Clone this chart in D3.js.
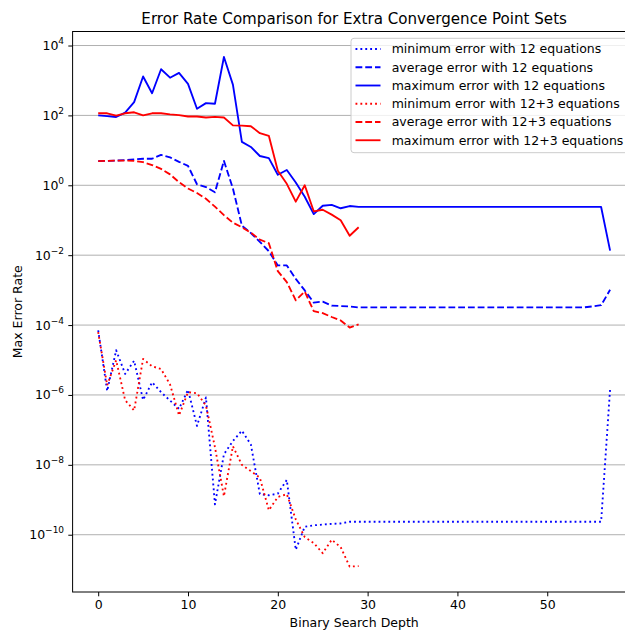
<!DOCTYPE html>
<html>
<head>
<meta charset="utf-8">
<script src="https://cdn.jsdelivr.net/npm/d3@7"></script>
<style>
  body { margin: 0; background: #fff; }
  svg { font-family: "DejaVu Sans", sans-serif; }
</style>
</head>
<body>
<svg id="svg" width="625" height="630"></svg>
<script>
/*global d3*/

// binary search depth = array index
const minErr12 = [7.1e-5, 1.3e-6, 1.9e-5, 4.0e-6, 9.5e-6, 7.2e-7, 2.3e-6, 1.2e-6, 6.9e-7, 4.0e-7,
  1.4e-6, 1.3e-7, 8.5e-7, 7.4e-10, 2.0e-8, 4.8e-8, 9.5e-8, 3.8e-8, 1.45e-9, 1.35e-9,
  1.5e-9, 3.7e-9, 3.7e-11, 1.7e-10, 1.86e-10, 1.95e-10, 2.05e-10, 2.1e-10, 2.35e-10, 2.35e-10,
  2.35e-10, 2.35e-10, 2.35e-10, 2.35e-10, 2.35e-10, 2.35e-10, 2.35e-10, 2.35e-10, 2.35e-10, 2.35e-10,
  2.35e-10, 2.35e-10, 2.35e-10, 2.35e-10, 2.35e-10, 2.35e-10, 2.35e-10, 2.35e-10, 2.35e-10, 2.35e-10,
  2.35e-10, 2.35e-10, 2.35e-10, 2.35e-10, 2.35e-10, 2.35e-10, 2.35e-10, 1.5e-6];

const avgErr12 = [4.9, 5.0, 5.1, 5.25, 5.5, 5.75, 5.75, 7.4, 6.3, 4.7,
  3.6, 1.07, 0.89, 0.63, 5.0, 0.81, 0.07, 0.043, 0.024, 0.013,
  0.0051, 0.0051, 0.0021, 0.00098, 0.00044, 0.00047, 0.00036, 0.00035, 0.00034, 0.00032,
  0.00032, 0.00032, 0.00032, 0.00032, 0.00032, 0.00032, 0.00032, 0.00032, 0.00032, 0.00032,
  0.00032, 0.00032, 0.00032, 0.00032, 0.00032, 0.00032, 0.00032, 0.00032, 0.00032, 0.00032,
  0.00032, 0.00032, 0.00032, 0.00032, 0.00032, 0.00034, 0.00037, 0.00102];

const maxErr12 = [100, 95, 90, 120, 240, 1300, 430, 2100, 1200, 1650,
  800, 155, 225, 215, 4700, 760, 17.5, 12.5, 6.9, 6.0,
  2.0, 2.75, 1.2, 0.47, 0.15, 0.26, 0.275, 0.22, 0.255, 0.24,
  0.24, 0.24, 0.24, 0.24, 0.24, 0.24, 0.24, 0.24, 0.24, 0.24,
  0.24, 0.24, 0.24, 0.24, 0.24, 0.24, 0.24, 0.24, 0.24, 0.24,
  0.24, 0.24, 0.24, 0.24, 0.24, 0.24, 0.24, 0.0135];

const minErr15 = [6.3e-5, 1.9e-6, 9.8e-6, 7.1e-7, 3.6e-7, 1.07e-5, 6.6e-6, 5.5e-6, 2.0e-6, 2.6e-7,
  1.2e-6, 1.12e-6, 5.0e-7, 3.2e-8, 1.26e-9, 3.4e-8, 1.0e-8, 6.6e-9, 4.3e-9, 5.0e-10,
  1.2e-9, 1.45e-9, 2.75e-10, 8.5e-11, 5.8e-11, 2.95e-11, 7.2e-11, 4.4e-11, 1.23e-11, 1.26e-11];

const avgErr15 = [4.9, 5.0, 5.1, 5.1, 5.0, 4.6, 3.8, 2.95, 2.05, 1.23,
  0.81, 0.60, 0.41, 0.245, 0.14, 0.085, 0.063, 0.044, 0.028, 0.022,
  0.0035, 0.0017, 0.00051, 0.00091, 0.00025, 0.00022, 0.00017, 0.000135, 0.000085, 0.000105];

const maxErr15 = [115, 115, 98, 115, 123, 100, 115, 115, 107, 102,
  93, 93, 87, 91, 87, 52, 51, 49, 31, 26,
  2.6, 1.1, 0.34, 1.0, 0.18, 0.2, 0.145, 0.1, 0.036, 0.063];

const seriesNames = [
  "minimum error with 12 equations",
  "average error with 12 equations",
  "maximum error with 12 equations",
  "minimum error with 12+3 equations",
  "average error with 12+3 equations",
  "maximum error with 12+3 equations"
];
const yTickValues = [1e-10, 1e-8, 1e-6, 1e-4, 1e-2, 1e0, 1e2, 1e4];
const xTickValues = [0, 10, 20, 30, 40, 50];

const svg = d3.select("#svg");
const fontSize = 12.5;
const lw = 1.85;

const series = [
  {name: seriesNames[0], values: minErr12, color: "#0000ff", dash: "1.85,3.05"},
  {name: seriesNames[1], values: avgErr12, color: "#0000ff", dash: "6.8,2.95"},
  {name: seriesNames[2], values: maxErr12, color: "#0000ff", dash: null},
  {name: seriesNames[3], values: minErr15, color: "#ff0000", dash: "1.85,3.05"},
  {name: seriesNames[4], values: avgErr15, color: "#ff0000", dash: "6.8,2.95"},
  {name: seriesNames[5], values: maxErr15, color: "#ff0000", dash: null}
];

const plot = {left: 72.6, right: 635.7, top: 31.5, bottom: 592};

// matplotlib style 5% margins
const nMax = d3.max(series, s => s.values.length) - 1;
const xScale = d3.scaleLinear()
  .domain([-nMax * 0.05, nMax * 1.05])
  .range([plot.left, plot.right]);

const allVals = series.flatMap(s => s.values);
const lo = Math.log10(d3.min(allVals)), hi = Math.log10(d3.max(allVals));
const pad = (hi - lo) * 0.05;
const yScale = d3.scaleLog()
  .domain([Math.pow(10, lo - pad), Math.pow(10, hi + pad)])
  .range([plot.bottom, plot.top]);

// grid
svg.append('g').selectAll('line').data(yTickValues)
  .enter().append('line')
  .attr('x1', plot.left).attr('x2', plot.right)
  .attr('y1', d => yScale(d)).attr('y2', d => yScale(d))
  .attr('stroke', '#b0b0b0').attr('stroke-width', 1);

// lines
const line = d3.line()
  .x((d, i) => xScale(i))
  .y(d => yScale(d));

svg.append('g').selectAll('path').data(series)
  .enter().append('path')
  .attr('d', d => line(d.values))
  .attr('fill', 'none')
  .attr('stroke', d => d.color)
  .attr('stroke-width', lw)
  .attr('stroke-linejoin', 'round')
  .attr('stroke-dasharray', d => d.dash);

// axes
const xAxis = d3.axisBottom(xScale).tickValues(xTickValues).tickSize(4.3).tickPadding(4);
const xAxisG = svg.append('g')
  .attr('transform', `translate(0,${plot.bottom})`)
  .call(xAxis);
xAxisG.select('.domain').remove();
xAxisG.selectAll('text').attr('font-size', fontSize).attr('fill', '#000')
  .attr('font-family', '"DejaVu Sans", sans-serif');

const yAxis = d3.axisLeft(yScale).tickValues(yTickValues).tickSize(4.3).tickFormat('');
const yAxisG = svg.append('g')
  .attr('transform', `translate(${plot.left},0)`)
  .call(yAxis);
yAxisG.select('.domain').remove();

const yLab = svg.append('g').selectAll('text').data(yTickValues)
  .enter().append('text')
  .attr('x', plot.left - 8.5)
  .attr('y', d => yScale(d) + 4.5)
  .attr('text-anchor', 'end')
  .attr('font-size', fontSize);
yLab.append('tspan').text('10');
yLab.append('tspan')
  .attr('dy', -6)
  .attr('font-size', fontSize * 0.72)
  .text(d => String(Math.round(Math.log10(d))).replace('-', '\u2212'));

// spines
svg.append('rect')
  .attr('x', plot.left).attr('y', plot.top)
  .attr('width', plot.right - plot.left).attr('height', plot.bottom - plot.top)
  .attr('fill', 'none').attr('stroke', '#000').attr('stroke-width', 1);

// labels
svg.append('text')
  .attr('x', (plot.left + plot.right) / 2).attr('y', 24)
  .attr('text-anchor', 'middle').attr('font-size', 15.1)
  .text('Error Rate Comparison for Extra Convergence Point Sets');

svg.append('text')
  .attr('x', (plot.left + plot.right) / 2).attr('y', 626.5)
  .attr('text-anchor', 'middle').attr('font-size', fontSize)
  .text('Binary Search Depth');

svg.append('text')
  .attr('transform', `translate(21.5,${(plot.top + plot.bottom) / 2}) rotate(-90)`)
  .attr('text-anchor', 'middle').attr('font-size', fontSize)
  .text('Max Error Rate');

// legend
const legend = svg.append('g').attr('transform', 'translate(351,38.3)');
legend.append('rect')
  .attr('width', 279).attr('height', 114.4).attr('rx', 3)
  .attr('fill', '#fff').attr('fill-opacity', 0.8)
  .attr('stroke', '#cccccc').attr('stroke-width', 1);

const item = legend.selectAll('g.item').data(series)
  .enter().append('g')
  .attr('class', 'item')
  .attr('transform', (d, i) => `translate(0,${10.7 + i * 18.25})`);
item.append('line')
  .attr('x1', 4.5).attr('x2', 29.5)
  .attr('stroke', d => d.color).attr('stroke-width', lw)
  .attr('stroke-dasharray', d => d.dash);
item.append('text')
  .attr('x', 40.7).attr('y', 4.4)
  .attr('font-size', fontSize)
  .text(d => d.name);
</script>
</body>
</html>
